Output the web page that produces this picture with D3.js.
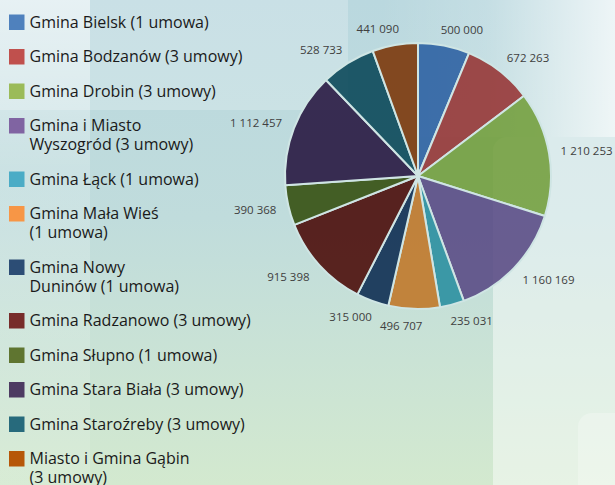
<!DOCTYPE html>
<html><head><meta charset="utf-8">
<script src="https://cdn.jsdelivr.net/npm/d3@7"></script>
<style>html,body{margin:0;padding:0;overflow:hidden;background:#c6dfe0;} svg{display:block;}</style>
</head><body><svg id="c" width="615" height="485"></svg>
<script>
// ---- data ----
const categories = [
  "Gmina Bielsk (1 umowa)",
  "Gmina Bodzanów (3 umowy)",
  "Gmina Drobin (3 umowy)",
  "Gmina i Miasto\nWyszogród (3 umowy)",
  "Gmina Łąck (1 umowa)",
  "Gmina Mała Wieś\n(1 umowa)",
  "Gmina Nowy\nDuninów (1 umowa)",
  "Gmina Radzanowo (3 umowy)",
  "Gmina Słupno (1 umowa)",
  "Gmina Stara Biała (3 umowy)",
  "Gmina Staroźreby (3 umowy)",
  "Miasto i Gmina Gąbin\n(3 umowy)"
];
const values = [500000, 672263, 1210253, 1160169, 235031, 496707, 315000, 915398, 390368, 1112457, 528733, 441090];
const legendColors = ["#4f81bd","#c0504d","#9bbb59","#8064a2","#4bacc6","#f79646","#2c4d75","#772c2a","#5f7530","#4d3b62","#276a7c","#b65708"];
const sliceColors = ["#3c6ea8","#9a4646","#7ba54e","#645a8e","#3a97a6","#c0823c","#203f60","#57221f","#435e25","#372c51","#1d5766","#824806"];

// ---- setup ----
const W = 615, H = 485;
const svg = d3.select("#c");
const defs = svg.append("defs");

const bgGrad = defs.append("linearGradient").attr("id","bgGrad").attr("x1",0).attr("y1",0).attr("x2",0).attr("y2",1);
[[0,"#bad8df"],[0.45,"#c0dcdc"],[1,"#d3e9cf"]].forEach(([o,c])=>bgGrad.append("stop").attr("offset",o).attr("stop-color",c));

const leftGrad = defs.append("linearGradient").attr("id","leftGrad").attr("x1",0).attr("y1",0).attr("x2",0).attr("y2",1);
[[0,0.55],[0.35,0.2],[1,0.12]].forEach(([o,a])=>leftGrad.append("stop").attr("offset",o).attr("stop-color","#fff").attr("stop-opacity",a));

const trGrad = defs.append("linearGradient").attr("id","trGrad").attr("x1",0).attr("y1",0).attr("x2",1).attr("y2",0);
[[0,0],[0.45,0.15],[1,0.75]].forEach(([o,a])=>trGrad.append("stop").attr("offset",o).attr("stop-color","#fff").attr("stop-opacity",a));

const bg = svg.append("g");
bg.append("rect").attr("width",W).attr("height",H).attr("fill","url(#bgGrad)");
bg.append("rect").attr("x",0).attr("y",0).attr("width",348).attr("height",110).attr("fill","#fff").attr("opacity",0.22);
bg.append("rect").attr("x",0).attr("y",0).attr("width",90).attr("height",H).attr("fill","url(#leftGrad)");
bg.append("rect").attr("x",380).attr("y",0).attr("width",235).attr("height",137).attr("fill","url(#trGrad)");
bg.append("rect").attr("x",493).attr("y",137).attr("width",150).attr("height",380).attr("rx",14).attr("fill","#fff").attr("opacity",0.45);
bg.append("rect").attr("x",578).attr("y",413).attr("width",60).attr("height",90).attr("rx",14).attr("fill","#fff").attr("opacity",0.25);

// ---- pie ----
const cx = 418, cy = 176, r = 133;
const alpha = 0.86;
const bgRef = d3.rgb("#c0dcdc");
const baseColor = c => {
  const o = d3.rgb(c);
  const f = (v,b) => Math.max(0, Math.min(255, (v - (1-alpha)*b)/alpha));
  return d3.rgb(f(o.r,bgRef.r), f(o.g,bgRef.g), f(o.b,bgRef.b)).formatHex();
};

const pie = d3.pie().sort(null).value(d=>d)(values);
const arc = d3.arc().innerRadius(0).outerRadius(r);
const g = svg.append("g").attr("transform",`translate(${cx},${cy})`);
g.selectAll("path").data(pie).join("path")
  .attr("d",arc)
  .attr("fill",(d,i)=>baseColor(sliceColors[i]))
  .attr("fill-opacity",alpha)
  .attr("stroke","#cfe5e4")
  .attr("stroke-width",2)
  .attr("stroke-linejoin","round");

// ---- value labels ----
const fmt = v => d3.format(",")(v).replace(/,/g," ");
const lab = g.selectAll("text.v").data(pie).join("text")
  .attr("class","v")
  .attr("font-family","'Open Sans', sans-serif")
  .attr("font-size","11.5px")
  .attr("fill","#404040")
  .attr("text-anchor","middle")
  .attr("dominant-baseline","central")
  .text(d=>fmt(d.data));
lab.each(function(d){
  const w = this.getComputedTextLength(), h = 13;
  const a = (d.startAngle + d.endAngle)/2;
  const s = Math.sin(a), c = Math.cos(a);
  const R = r + 10;
  const x = s*R + s*w/2 + Math.sign(s)*12*Math.abs(c);
  const y = -c*R - c*h/2;
  d3.select(this).attr("x",x).attr("y",y);
});

// ---- legend ----
const leg = svg.append("g").attr("font-family","'Open Sans', sans-serif").attr("font-size","16px").attr("fill","#1a1a1a");
let yy = 22;
categories.forEach((name,i)=>{
  const lines = name.split("\n");
  const gi = leg.append("g");
  gi.append("rect").attr("x",9).attr("y",yy-7.5).attr("width",15.5).attr("height",15.5).attr("fill",legendColors[i]);
  lines.forEach((ln,j)=>gi.append("text").attr("x",29.5).attr("y",yy+5.8+j*19).text(ln));
  yy += 34.5 + (lines.length-1)*19;
});
</script>
</body></html>
